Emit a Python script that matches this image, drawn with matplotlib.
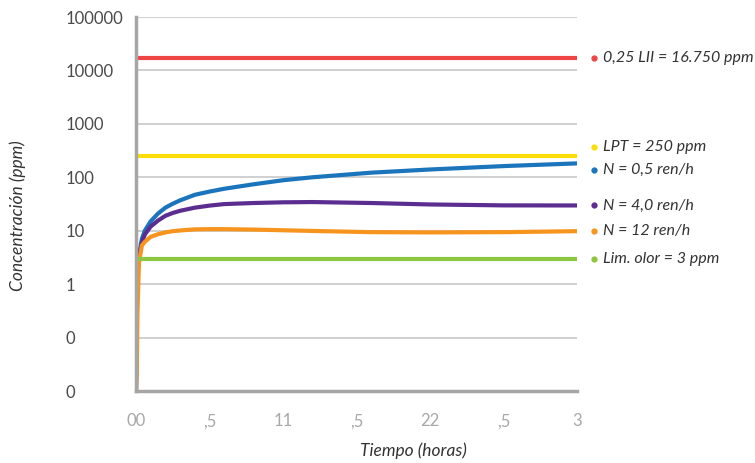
import numpy as np
import matplotlib.pyplot as plt
import matplotlib.transforms as mtransforms

plt.rcParams['font.family'] = ['Lato', 'DejaVu Sans']

# time (horas)
t = [0, 0.005, 0.01, 0.02, 0.04, 0.06, 0.1, 0.15, 0.2, 0.25, 0.3, 0.4, 0.5, 0.6,
     0.8, 1.0, 1.2, 1.6, 2.0, 2.5, 3.0]

n_05 = [0.01, 0.3, 1.5, 3.5, 7, 10, 15, 21, 27, 32, 37, 47, 54, 61,
        74, 88, 100, 122, 140, 162, 182]
n_40 = [0.01, 0.3, 1.4, 3.2, 6, 8.5, 12, 15.5, 19, 21.5, 23.6, 27, 29.5, 31.5,
        33, 34, 34.4, 33, 31, 29.8, 29.7]
n_12 = [0.01, 0.02, 0.3, 2.5, 5.3, 6.2, 7.7, 8.6, 9.3, 9.8, 10.1, 10.6, 10.7, 10.7,
        10.5, 10.2, 9.9, 9.4, 9.3, 9.4, 9.8]

lii = 16750
lpt = 250
olor = 3

yticks = [0.01, 0.1, 1, 10, 100, 1000, 10000, 100000]
ytick_labels = ['0', '0', '1', '10', '100', '1000', '10000', '100000']
xticks = [0, 0.5, 1, 1.5, 2, 2.5, 3]
xtick_labels = ['00', ',5', '11', ',5', '22', ',5', '3']

red = '#ef4444'
yellow = '#fcdd0a'
blue = '#1b75bc'
purple = '#5c2d91'
orange = '#f7941d'
green = '#8dc63f'

fig = plt.figure(figsize=(7.55, 4.63), dpi=100)
ax = fig.add_axes([136/755, 1-391/463, 441/755, 374/463])

lw = 3
ax.plot([0, 3], [lii, lii], color=red, lw=lw, solid_capstyle='butt')
ax.plot([0, 3], [lpt, lpt], color=yellow, lw=lw, solid_capstyle='butt')
ax.plot(t, n_05, color=blue, lw=lw)
ax.plot(t, n_40, color=purple, lw=lw)
ax.plot(t, n_12, color=orange, lw=lw)
ax.plot([0, 3], [olor, olor], color=green, lw=lw, solid_capstyle='butt')

ax.set_yscale('log')
ax.set_ylim(0.01, 100000)
ax.set_xlim(0, 3)
ax.set_yticks(yticks)
ax.set_yticklabels(ytick_labels)
ax.minorticks_off()
ax.set_xticks(xticks)
ax.set_xticklabels(xtick_labels)

ax.tick_params(axis='y', length=0, pad=51, labelsize=12, labelcolor='#4a4a4a')
for lab in ax.get_yticklabels():
    lab.set_horizontalalignment('left')
ax.tick_params(axis='x', length=0, pad=16, labelsize=12, labelcolor='#a8a8a8')

ax.grid(axis='y', color='#c8c8c8', lw=1.2)
ax.grid(axis='x', visible=False)
ax.set_axisbelow(True)
for s in ['top', 'right']:
    ax.spines[s].set_visible(False)
for s in ['left', 'bottom']:
    ax.spines[s].set_color('#a6a6a6')
    ax.spines[s].set_linewidth(2.5)

ax.set_ylabel('Concentración (ppm)', fontstyle='italic', fontsize=12.5,
              color='#333333', va='center')
ax.yaxis.set_label_coords(-0.268, 0.47)
ax.set_xlabel('Tiempo (horas)', fontstyle='italic', fontsize=12.5,
              color='#333333', va='center')
ax.xaxis.set_label_coords(0.628, -0.16)

# right-side labels
trans = mtransforms.blended_transform_factory(ax.transAxes, ax.transData)
labels = [
    ('0,25 LII = 16.750 ppm', lii, red),
    ('LPT = 250 ppm', lpt * 1.5, yellow),
    ('N = 0,5 ren/h', n_05[-1] * 0.75, blue),
    ('N = 4,0 ren/h', n_40[-1], purple),
    ('N = 12 ren/h', n_12[-1], orange),
    ('Lim. olor = 3 ppm', olor, green),
]
for text, yv, col in labels:
    ax.plot([1.0385], [yv], 'o', ms=3.5, color=col, transform=trans, clip_on=False)
    ax.text(1.058, yv, text, transform=trans, va='center', ha='left',
            fontsize=11.5, fontstyle='italic', color='#333333')

fig.savefig('out.png', dpi=100)
